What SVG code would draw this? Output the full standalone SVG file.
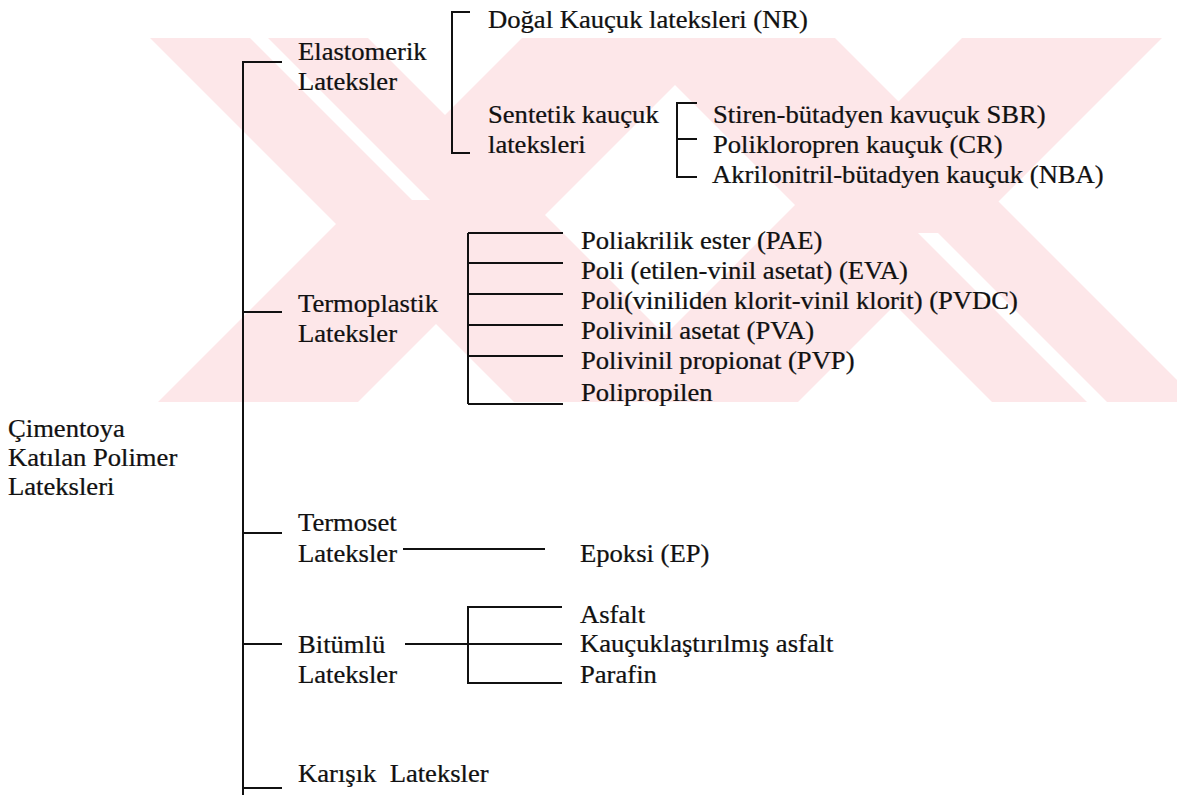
<svg xmlns="http://www.w3.org/2000/svg" width="1177" height="795" viewBox="0 0 1177 795">
<style>
text { font-family: "Liberation Serif", "Times New Roman", serif; font-size: 25px; fill: #111; stroke: #111; stroke-width: 0.25; white-space: pre; }
.ln { stroke: #111; stroke-width: 2; fill: none; }
.wm { fill: #fde7e9; }
.gap { fill: #ffffff; }
</style>
<defs>
<clipPath id="wmclip"><rect x="140" y="38" width="1037" height="364"/></clipPath>
</defs>
<rect width="1177" height="795" fill="#ffffff"/>
<g id="watermark" clip-path="url(#wmclip)">
<polygon class="wm" points="150,38 368,38 732,402 514,402"/>
<polygon class="wm" points="522,38 722,38 358,402 158,402"/>
<polygon class="wm" points="962,38 1162,38 798,402 598,402"/>
<polygon class="wm" points="628,38 835,38 1199,402 992,402"/>
<polygon class="gap" points="250,38 268,38 430,200 412,200"/>
<polygon class="gap" points="918,233 938,233 1107,402 1087,402"/>
</g>
<g id="connectors">
<path class="ln" d="M282,62 H243 V795 M243,312 H282 M243,533 H282 M243,644 H282 M243,788 H282"/>
<path class="ln" d="M470,12 H452 V153 H470"/>
<path class="ln" d="M697,103 H677 V177 H697 M677,139 H697"/>
<path class="ln" d="M468,233 V404 M468,233 H563 M468,263 H563 M468,294 H563 M468,325 H563 M468,356 H563 M468,404 H563"/>
<path class="ln" d="M403,549 H545"/>
<path class="ln" d="M405,644 H562 M562,607 H468 V683 H562"/>
</g>
<g id="root">
<text transform="translate(8,437) scale(1.065,1)">Çimentoya</text>
<text transform="translate(8,466) scale(1.065,1)">Katılan Polimer</text>
<text transform="translate(8,495) scale(1.065,1)">Lateksleri</text>
</g>
<g id="n-elastomerik">
<text transform="translate(298,60) scale(1.065,1)">Elastomerik</text>
<text transform="translate(298,90) scale(1.065,1)">Lateksler</text>
</g>
<g id="n-nr"><text transform="translate(488,28) scale(1.065,1)">Doğal Kauçuk lateksleri (NR)</text></g>
<g id="n-sentetik">
<text transform="translate(488,123) scale(1.065,1)">Sentetik kauçuk</text>
<text transform="translate(488,153) scale(1.065,1)">lateksleri</text>
</g>
<g id="n-sbr"><text transform="translate(713,123) scale(1.065,1)">Stiren-bütadyen kavuçuk SBR)</text></g>
<g id="n-cr"><text transform="translate(713,153) scale(1.065,1)">Polikloropren kauçuk (CR)</text></g>
<g id="n-nba"><text transform="translate(712,183) scale(1.065,1)">Akrilonitril-bütadyen kauçuk (NBA)</text></g>
<g id="n-termoplastik">
<text transform="translate(298,312) scale(1.065,1)">Termoplastik</text>
<text transform="translate(298,342) scale(1.065,1)">Lateksler</text>
</g>
<g id="n-pae"><text transform="translate(581,249) scale(1.065,1)">Poliakrilik ester (PAE)</text></g>
<g id="n-eva"><text transform="translate(581,279) scale(1.065,1)">Poli (etilen-vinil asetat) (EVA)</text></g>
<g id="n-pvdc"><text transform="translate(581,309) scale(1.065,1)">Poli(viniliden klorit-vinil klorit) (PVDC)</text></g>
<g id="n-pva"><text transform="translate(581,339) scale(1.065,1)">Polivinil asetat (PVA)</text></g>
<g id="n-pvp"><text transform="translate(581,369) scale(1.065,1)">Polivinil propionat (PVP)</text></g>
<g id="n-pp"><text transform="translate(581,401) scale(1.065,1)">Polipropilen</text></g>
<g id="n-termoset">
<text transform="translate(298,531) scale(1.065,1)">Termoset</text>
<text transform="translate(298,562) scale(1.065,1)">Lateksler</text>
</g>
<g id="n-ep"><text transform="translate(580,562) scale(1.065,1)">Epoksi (EP)</text></g>
<g id="n-bitumlu">
<text transform="translate(298,653) scale(1.065,1)">Bitümlü</text>
<text transform="translate(298,683) scale(1.065,1)">Lateksler</text>
</g>
<g id="n-asfalt"><text transform="translate(580,623) scale(1.065,1)">Asfalt</text></g>
<g id="n-kasfalt"><text transform="translate(580,652) scale(1.065,1)">Kauçuklaştırılmış asfalt</text></g>
<g id="n-parafin"><text transform="translate(580,683) scale(1.065,1)">Parafin</text></g>
<g id="n-karisik"><text xml:space="preserve" transform="translate(298,782) scale(1.065,1)">Karışık  Lateksler</text></g>
</svg>
